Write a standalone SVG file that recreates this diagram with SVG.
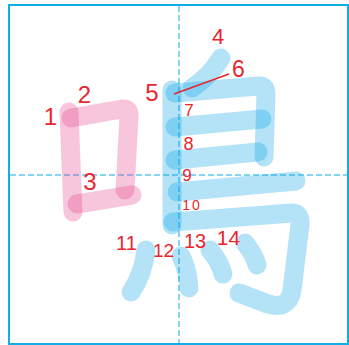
<svg xmlns="http://www.w3.org/2000/svg" width="349" height="345" viewBox="0 0 349 345">
<style>
.frame{fill:#fff;stroke:#12ace6;stroke-width:2}
.guide{stroke:#5cc6ee;stroke-width:1.5;stroke-dasharray:6 3;fill:none}
.p{fill:none;stroke:#e4418a;stroke-opacity:0.3;stroke-width:19;stroke-linecap:round;stroke-linejoin:round}
.b{fill:none;stroke:#08a2e8;stroke-opacity:0.3;stroke-width:19;stroke-linecap:round;stroke-linejoin:round}
.n{fill:#e8262e;font-family:"Liberation Sans",Arial,sans-serif;text-anchor:middle}
.lead{stroke:#e8262e;stroke-width:1.5;fill:none}
</style>
<rect class="frame" x="9" y="5" width="339" height="339"/>
<g id="guides">
<line class="guide" x1="179" y1="6" x2="179" y2="343"/>
<line class="guide" x1="10" y1="175" x2="347" y2="175"/>
</g>
<g id="stroke1"><path class="p" d="M69,112 L73,212"/></g>
<g id="stroke2"><path class="p" d="M71,118 L122,109 Q130,108 129,117 L125,190"/></g>
<g id="stroke3"><path class="p" d="M77,204 L132,195"/></g>
<g id="stroke4"><path class="b" d="M221,58 Q210,76 192,88"/></g>
<g id="stroke5"><path class="b" d="M172,90 L172,225"/></g>
<g id="stroke6"><path class="b" d="M175,93 L258,86 Q266,85 266,94 L264,157"/></g>
<g id="stroke7"><path class="b" d="M175,127 L262,119"/></g>
<g id="stroke8"><path class="b" d="M175,160 L258,152"/></g>
<g id="stroke9"><path class="b" d="M177,192 L296,181"/></g>
<g id="stroke10"><path class="b" d="M173,222 L292,213 Q301,213 300,225 L292,290 Q289,310 268,304 L239,293"/></g>
<g id="stroke11"><path class="b" d="M146,250 Q143,275 131,292"/></g>
<g id="stroke12"><path class="b" d="M181,256 Q188,270 189,288"/></g>
<g id="stroke13"><path class="b" d="M210,250 Q220,262 223,274"/></g>
<g id="stroke14"><path class="b" d="M245,243 Q255,256 257,265"/></g>
<g id="connectors">
<line class="lead" x1="174" y1="94" x2="229" y2="74"/>
</g>
<g id="labels">
<text class="n" x="50.5" y="125" font-size="24">1</text>
<text class="n" x="84.5" y="103" font-size="24">2</text>
<text class="n" x="90" y="190" font-size="24">3</text>
<text class="n" x="218" y="44" font-size="22">4</text>
<text class="n" x="152" y="101" font-size="24">5</text>
<text class="n" x="238.5" y="77" font-size="23">6</text>
<text class="n" x="189" y="116" font-size="17">7</text>
<text class="n" x="188.5" y="150" font-size="18">8</text>
<text class="n" x="187" y="181" font-size="17">9</text>
<text class="n" x="192" y="210" font-size="14" letter-spacing="2">10</text>
<text class="n" x="126.5" y="250" font-size="20">11</text>
<text class="n" x="163.5" y="257" font-size="19">12</text>
<text class="n" x="195" y="248" font-size="20">13</text>
<text class="n" x="228.5" y="245" font-size="21">14</text>
</g>
</svg>
